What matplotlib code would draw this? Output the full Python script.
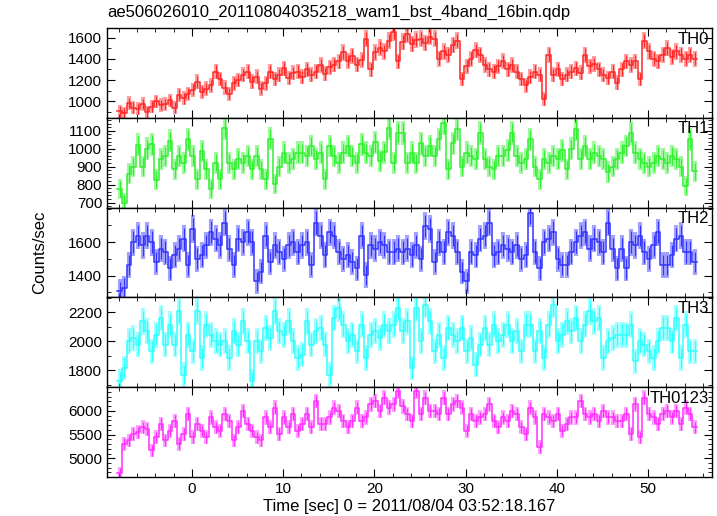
import numpy as np
import matplotlib
matplotlib.use('Agg')
import matplotlib.pyplot as plt
from matplotlib.ticker import MultipleLocator

plt.rcParams['font.family'] = ['Liberation Sans', 'DejaVu Sans']

# time bins: 0.5 s, first bin centre at -7.9 s
t0 = -7.9
dt = 0.5
expo = 0.25  # effective exposure per bin used for the error bars

th0 = [905, 890, 985, 940, 930, 975, 900, 950, 1000, 965,
       975, 1010, 940, 1060, 1030, 1070, 1110, 1185, 1090, 1120,
       1150, 1280, 1210, 1130, 1070, 1170, 1200, 1250, 1280, 1185,
       1230, 1120, 1170, 1280, 1210, 1250, 1310, 1220, 1270, 1280,
       1230, 1300, 1250, 1280, 1340, 1260, 1320, 1345, 1375, 1460,
       1380, 1430, 1345, 1390, 1590, 1300, 1460, 1505, 1470, 1570,
       1650, 1375, 1560, 1630, 1540, 1580, 1590, 1550, 1610, 1590,
       1400, 1470, 1440, 1530, 1570, 1210, 1330, 1400, 1480, 1440,
       1340, 1300, 1280, 1330, 1380, 1300, 1340, 1280, 1210, 1150,
       1230, 1280, 1250, 1020, 1440, 1250, 1300, 1210, 1250, 1280,
       1310, 1270, 1440, 1330, 1350, 1300, 1250, 1220, 1280, 1175,
       1300, 1375, 1340, 1375, 1210, 1570, 1470, 1400, 1375, 1440,
       1500, 1420, 1470, 1440, 1400, 1440, 1400]

th1 = [774, 700, 860, 900, 1022, 900, 1000, 1024, 828, 941,
       959, 1044, 885, 959, 922, 1052, 959, 830, 987, 885,
       774, 922, 830, 1117, 922, 885, 941, 922, 959, 885,
       959, 885, 830, 1055, 802, 900, 978, 922, 941, 978,
       978, 959, 1015, 941, 978, 830, 1015, 959, 922, 978,
       1015, 959, 922, 1024, 978, 960, 1035, 930, 980, 1117,
       922, 1089, 1089, 922, 978, 922, 1030, 959, 1015, 959,
       1052, 1144, 885, 1030, 1107, 900, 978, 959, 941, 1089,
       941, 900, 885, 960, 959, 990, 1089, 959, 922, 941,
       1052, 900, 830, 941, 922, 959, 941, 990, 885, 1000,
       1107, 941, 1015, 941, 978, 960, 941, 870, 900, 941,
       978, 1015, 1089, 978, 941, 920, 900, 922, 959, 941,
       922, 959, 941, 900, 793, 1052, 875]

th2 = [1306, 1325, 1463, 1600, 1639, 1580, 1639, 1600, 1482, 1561,
       1541, 1443, 1521, 1561, 1619, 1463, 1678, 1502, 1521, 1580,
       1659, 1619, 1580, 1717, 1561, 1463, 1619, 1600, 1659, 1600,
       1365, 1423, 1639, 1482, 1580, 1541, 1502, 1580, 1600, 1541,
       1580, 1600, 1463, 1717, 1639, 1521, 1659, 1639, 1541, 1502,
       1521, 1482, 1443, 1639, 1404, 1580, 1561, 1600, 1580, 1541,
       1541, 1561, 1541, 1561, 1521, 1580, 1502, 1698, 1678, 1482,
       1600, 1541, 1659, 1639, 1541, 1423, 1365, 1541, 1521, 1619,
       1639, 1717, 1521, 1541, 1580, 1561, 1541, 1580, 1502, 1521,
       1776, 1541, 1443, 1600, 1619, 1659, 1502, 1463, 1463, 1541,
       1600, 1639, 1659, 1561, 1619, 1600, 1541, 1717, 1561, 1443,
       1561, 1443, 1600, 1580, 1639, 1541, 1502, 1580, 1659, 1463,
       1463, 1521, 1619, 1639, 1541, 1541, 1482]

th3 = [1724, 1816, 2000, 2023, 1977, 2138, 2069, 1931, 2046, 2161,
       1977, 2115, 1977, 2207, 1770, 2046, 1931, 2207, 1885, 2115,
       2046, 2000, 1977, 2000, 1885, 2069, 1977, 2138, 2000, 1724,
       2000, 1931, 2092, 2023, 2207, 2069, 2046, 2138, 2000, 1885,
       1908, 2138, 1977, 2069, 2092, 1977, 1770, 2161, 2230, 2115,
       2000, 2046, 1931, 2115, 1885, 2046, 2069, 2023, 2115, 2069,
       2115, 2230, 2069, 2138, 1816, 2230, 2000, 2253, 2138, 1931,
       2046, 1885, 2092, 2046, 2000, 2092, 1931, 2023, 1839, 1977,
       2092, 1977, 2115, 2000, 2046, 2115, 2000, 2069, 1931, 2115,
       2115, 1931, 2069, 1885, 2115, 2253, 2000, 2046, 2138, 2069,
       2161, 2000, 2115, 2207, 2138, 2161, 1885, 2000, 2023, 2046,
       2046, 2046, 2115, 1862, 2000, 1977, 1931, 1885, 2000, 2092,
       2092, 2000, 2161, 1885, 2115, 1931, 1931]

th0123 = [4682, 5306, 5375, 5514, 5550, 5653, 5620, 5167, 5445, 5723,
          5375, 5584, 5792, 5306, 5514, 5931, 5445, 5723, 5584, 5445,
          5861, 5653, 5584, 5931, 5792, 5375, 5653, 6000, 5723, 5584,
          5445, 5375, 5861, 5653, 6070, 5514, 5861, 5653, 5931, 5584,
          5723, 5931, 5653, 6208, 5723, 5723, 5861, 6070, 6000, 5792,
          5653, 5792, 6070, 5792, 5861, 6139, 6208, 6000, 6278, 6070,
          6139, 6417, 6100, 5931, 5792, 6417, 5931, 6278, 6000, 6000,
          5931, 6278, 5931, 6139, 6208, 6070, 5584, 5931, 5792, 5861,
          5931, 6139, 5792, 5653, 5861, 5792, 6000, 5931, 5653, 5514,
          6070, 5861, 5237, 5931, 5861, 5792, 5931, 5584, 5723, 5861,
          5861, 6208, 5931, 5861, 5931, 5792, 6000, 5861, 5861, 5792,
          5792, 5931, 5514, 6139, 5445, 6278, 5931, 5861, 5723, 5931,
          6000, 5861, 6000, 5723, 6070, 5931, 5653]

series = [th0, th1, th2, th3, th0123]
names = ['TH0', 'TH1', 'TH2', 'TH3', 'TH0123']
colores = ['#ff2828', '#30f030', '#3434ff', '#30ffff', '#ff30ff']
ylims = [(845, 1690), (672, 1172), (1270, 1806), (1683, 2303), (4604, 6500)]
yticks = [[1000, 1200, 1400, 1600], [700, 800, 900, 1000, 1100],
          [1400, 1600], [1800, 2000, 2200], [5000, 5500, 6000]]
minors = [100, 20, 100, 100, 100]

fig = plt.figure(figsize=(7.17, 5.16), dpi=100)
left, right = 107 / 717, 712 / 717
top, bottom = 1 - 28 / 516, 1 - 477 / 516
h = (top - bottom) / 5

axes = []
for i, (vals, nombre, c) in enumerate(zip(series, names, colores)):
    ax = fig.add_axes([left, top - (i + 1) * h, right - left, h])
    y = np.array(vals, dtype=float)
    t = t0 + dt * np.arange(len(y))
    err = np.sqrt(y / expo)
    # barras de error claras, luego la curva en escalones
    ax.errorbar(t, y, yerr=err, fmt='none', ecolor=c, elinewidth=3.0,
                alpha=0.45, capsize=0)
    ax.errorbar(t, y, yerr=err * 0.8, fmt='none', ecolor=c,
                elinewidth=0.8, capsize=0)
    ax.step(np.append(t - dt / 2, t[-1] + dt / 2), np.append(y, y[-1]),
            where='post', color=c, lw=1.1)
    ax.set_xlim(-9.3, 57.0)
    ax.set_ylim(*ylims[i])
    ax.set_yticks(yticks[i])
    ax.yaxis.set_minor_locator(MultipleLocator(minors[i]))
    ax.xaxis.set_major_locator(MultipleLocator(10))
    ax.xaxis.set_minor_locator(MultipleLocator(2))
    ax.tick_params(which='both', direction='in', top=True, right=True,
                   labelsize=11)
    ax.tick_params(which='major', length=6)
    ax.tick_params(which='minor', length=3)
    for sp in ax.spines.values():
        sp.set_linewidth(1.0)
    ax.text(0.995, 0.96, nombre, transform=ax.transAxes, ha='right',
            va='top', fontsize=12)
    if i < 4:
        ax.tick_params(labelbottom=False)
    axes.append(ax)

axes[-1].set_xlabel('Time [sec] 0 = 2011/08/04 03:52:18.167', fontsize=12,
                    labelpad=2)
fig.text(0.055, (top + bottom) / 2, 'Counts/sec', rotation=90, ha='center',
         va='center', fontsize=12)
fig.text(left, 1 - 12 / 516, 'ae506026010_20110804035218_wam1_bst_4band_16bin.qdp',
         ha='left', va='center', fontsize=12)

plt.savefig('out.png', dpi=100)
